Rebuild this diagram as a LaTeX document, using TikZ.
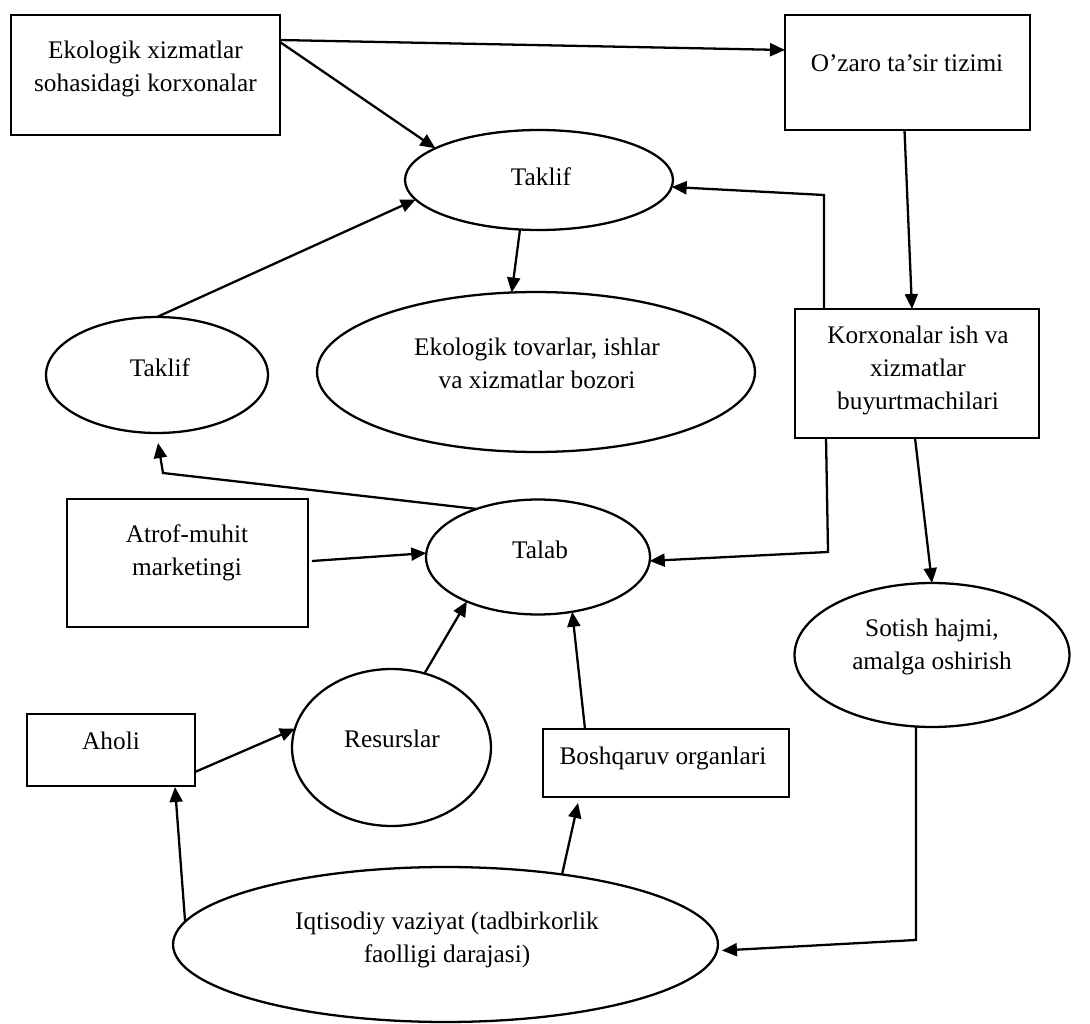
\documentclass[tikz,border=0pt]{standalone}
\usepackage{fontspec}
\setmainfont{Liberation Serif}
\usetikzlibrary{arrows.meta,shapes.geometric,calc}
\begin{document}
\begin{tikzpicture}[x=0.02cm,y=-0.02cm,
  font=\fontsize{14.4}{18.8}\selectfont,
  boxn/.style={draw,line width=1.5pt,rectangle,inner sep=0pt,outer sep=0pt},
  elln/.style={draw,line width=1.3pt,ellipse,inner sep=0pt,outer sep=0pt},
  txt/.style={align=center,inner sep=0pt},
  arr/.style={line width=1.3pt,-{Triangle[length=0.3cm,width=0.26cm]}},
  ln/.style={line width=1.3pt}]
\useasboundingbox (0,0) rectangle (1090,1024);
% shapes
\node[boxn,minimum width=5.38cm,minimum height=2.4cm] (b1) at (145.5,75) {};
\node[txt] (b1t) at (145.5,68.5) {Ekologik xizmatlar\\sohasidagi korxonalar};
\node[boxn,minimum width=4.9cm,minimum height=2.3cm] (b2) at (907.5,72.5) {};
\node[txt] (b2t) at (907,63) {O’zaro ta’sir tizimi};
\node[elln,minimum width=5.36cm,minimum height=2.0cm] (e1) at (539,180) {};
\node[txt] (e1t) at (541,177) {Taklif};
\node[elln,minimum width=4.44cm,minimum height=2.32cm] (e2) at (157,375) {};
\node[txt] (e2t) at (160,368) {Taklif};
\node[elln,minimum width=8.76cm,minimum height=3.2cm] (e3) at (536,372) {};
\node[txt] (e3t) at (537,363) {Ekologik tovarlar, ishlar\\va xizmatlar bozori};
\node[boxn,minimum width=4.88cm,minimum height=2.58cm] (b3) at (917,373.5) {};
\node[txt] (b3t) at (918,370) {Korxonalar ish va\\xizmatlar\\buyurtmachilari};
\node[elln,minimum width=4.48cm,minimum height=2.3cm] (e4) at (538,557) {};
\node[txt] (e4t) at (540,550) {Talab};
\node[boxn,minimum width=4.82cm,minimum height=2.56cm] (b4) at (187.5,563) {};
\node[txt] (b4t) at (187,553) {Atrof-muhit\\marketingi};
\node[elln,minimum width=5.5cm,minimum height=2.88cm] (e5) at (932,655) {};
\node[txt] (e5t) at (932,647) {Sotish hajmi,\\amalga oshirish};
\node[boxn,minimum width=3.36cm,minimum height=1.44cm] (b5) at (111,750) {};
\node[txt] (b5t) at (111,741) {Aholi};
\node[elln,minimum width=3.98cm,minimum height=3.14cm] (e6) at (391.5,747.5) {};
\node[txt] (e6t) at (392,739) {Resurslar};
\node[boxn,minimum width=4.92cm,minimum height=1.36cm] (b6) at (666,763) {};
\node[txt] (b6t) at (663,758) {Boshqaruv organlari};
\node[elln,minimum width=10.9cm,minimum height=3.1cm] (e7) at (445.5,944.5) {};
\node[txt] (e7t) at (447,940) {Iqtisodiy vaziyat (tadbirkorlik\\faolligi darajasi)};
\coordinate (k1) at (163,473);
% connectors
\draw[arr] ($(b1.north east)+(0,25)$) -- ($(b2.north west)+(0,35)$);
\draw[arr] ($(b1.north east)+(0,27)$) -- (e1.163);
\draw[arr] (e2.north) -- (e1.189);
\draw[arr] (e1.249) -- (e3.107);
\draw[arr] ($(b2.south)+(-3,0)$) -- ($(b3.north)+(-5,0)$);
\draw[arr] ($(b3.north west)+(29,0)$) -- ++(0,-114) -- (e1.357);
\draw[arr] ($(b3.south west)+(31,0)$) -- ++(2,114) -- (e4.-2);
\draw[arr] ($(b3.south)+(-2,0)$) -- (e5.north);
\draw[arr] (e4.142) -- (k1) -- ($(e2.south)+(1,10)$);
\draw[arr] ($(b4.east)+(4,-2)$) -- (e4.178);
\draw[arr] ($(b5.east)+(0,22)$) -- (e6.169);
\draw[arr] (e6.66) -- (e4.212);
\draw[arr] ($(b6.north)+(-81,0)$) -- (e4.-58);
\draw[arr] (e7.175) -- ($(b5.south east)+(-20,1)$);
\draw[arr] (e7.31) -- ($(b6.south west)+(35,6)$);
\draw[arr] ($(e5.south)+(-16,0)$) -- ++(0,213) -- ($(e7.east)+(4,6)$);
\end{tikzpicture}
\end{document}
